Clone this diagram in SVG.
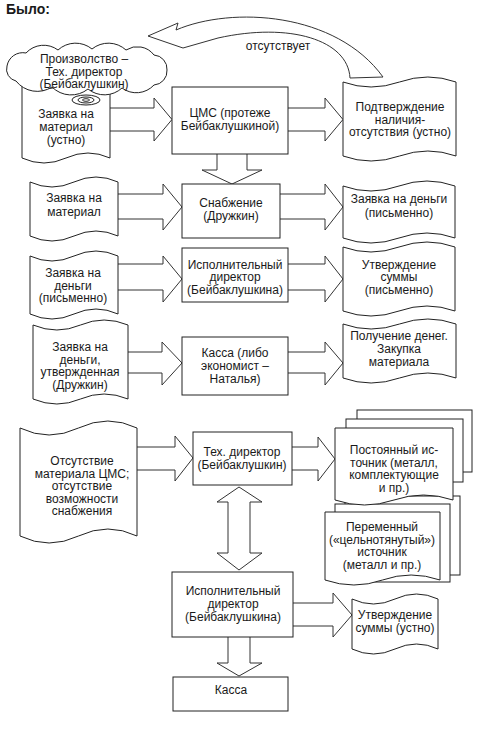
<svg xmlns="http://www.w3.org/2000/svg" width="484" height="730" viewBox="0 0 484 730">
<style>
.s{fill:#fff;stroke:#222;stroke-width:1}
.a{fill:#fff;stroke:#333;stroke-width:1;stroke-linejoin:miter}
text{font-family:"Liberation Sans",Arial,sans-serif;font-size:12px;fill:#1a1a1a;text-anchor:middle}
.t{font-size:14px;font-weight:bold;text-anchor:start}
</style>
<rect x="0" y="0" width="484" height="730" fill="#fff"/>
<text class="t" x="6" y="14">Было:</text>

<g id="connectors">
  <path class="a" d="M148,36 L178,23 L176,30 C232,6 336,12 383,77 L350,78 C348,40 290,22 218,38 L183,48 Z"/>
  <path class="a" d="M110,108 H154 V98 L172,119.5 L154,141 V131 H110"/>
  <path class="a" d="M288,108 H325 V98 L343,119.5 L325,141 V131 H288"/>
  <path class="a" d="M217,154 V170 H202 L232,184 L262,170 H247 V154"/>
  <path class="a" d="M118,194 H163 V184 L182,207 L163,230 V219 H118"/>
  <path class="a" d="M280,194 H325 V184 L343,207 L325,230 V219 H280"/>
  <path class="a" d="M118,264 H163 V256 L182,279 L163,302 V290 H118"/>
  <path class="a" d="M288,264 H325 V256 L343,279 L325,302 V290 H288"/>
  <path class="a" d="M128,352 H162 V342 L182,363 L162,385 V373 H128"/>
  <path class="a" d="M288,352 H325 V342 L343,363 L325,385 V373 H288"/>
  <path class="a" d="M137,447 H175 V436 L193,458 L175,481 V470 H137"/>
  <path class="a" d="M292,447 H318 V437 L335,459 L318,481 V470 H292"/>
  <path class="a" d="M228,502 H217 L239,487 L262,502 H250 V553 H262 L239,570 L217,553 H228 Z"/>
  <path class="a" d="M293,603 H333 V593 L352,615 L333,637 V626 H293"/>
  <path class="a" d="M228,637 V663 H217 L239,676 L262,663 H250 V637"/>
  <text x="278" y="50">отсутствует</text>
</g>

<g id="n-zayavka1">
  <path class="s" d="M22,84 Q44,94 66,84 T110,84 V158 Q88,148 66,158 T22,158 Z"/>
  <text x="66" y="118">Заявка на</text>
  <text x="66" y="131">материал</text>
  <text x="66" y="144">(устно)</text>
</g>
<g id="n-cloud">
  <path class="s" d="M16,81 A12,12 0 0 1 7,66 A16,16 0 0 1 26,53 A24,24 0 0 1 58,50 A26,26 0 0 1 92,49 A26,26 0 0 1 126,50 A21,21 0 0 1 154,55 A14,14 0 0 1 167,70 A14,14 0 0 1 154,85 A24,24 0 0 1 122,88 A26,26 0 0 1 88,89 A27,27 0 0 1 52,87 A27,27 0 0 1 16,81 Z"/>
  <ellipse class="s" cx="86" cy="100" rx="14" ry="5"/>
  <ellipse class="s" cx="86" cy="100" rx="8" ry="3"/>
  <ellipse class="s" cx="86" cy="100" rx="3.5" ry="1.3"/>
  <text x="84" y="63">Произволство –</text>
  <text x="84" y="75.5">Тех. директор</text>
  <text x="84" y="88">(Бейбаклушкин)</text>
</g>
<g id="n-cms">
  <rect class="s" x="172" y="87" width="116" height="67"/>
  <text x="230" y="117">ЦМС (протеже</text>
  <text x="230" y="130">Бейбаклушкиной)</text>
</g>
<g id="n-podtv">
  <path class="s" d="M343,82 Q371,92 399.5,82 T456,82 V156 Q428,146 399.5,156 T343,156 Z"/>
  <text x="400" y="111">Подтверждение</text>
  <text x="400" y="123.5">наличия-</text>
  <text x="400" y="136">отсутствия (устно)</text>
</g>

<g id="n-zayavka2">
  <path class="s" d="M30,182 Q52,192 74,182 T118,182 V236 Q96,226 74,236 T30,236 Z"/>
  <text x="74" y="202">Заявка на</text>
  <text x="74" y="216">материал</text>
</g>
<g id="n-snab">
  <rect class="s" x="182" y="184" width="98" height="54"/>
  <text x="231" y="207">Снабжение</text>
  <text x="231" y="220">(Дружкин)</text>
</g>
<g id="n-zayavka-dengi">
  <path class="s" d="M343,186 Q371,196 399,186 T455,186 V238 Q427,228 399,238 T343,238 Z"/>
  <text x="399" y="203">Заявка на деньги</text>
  <text x="399" y="217">(письменно)</text>
</g>

<g id="n-zayavka3">
  <path class="s" d="M30,256 Q52,266 74,256 T118,256 V314 Q96,304 74,314 T30,314 Z"/>
  <text x="73" y="277">Заявка на</text>
  <text x="73" y="289.5">деньги</text>
  <text x="73" y="302">(письменно)</text>
</g>
<g id="n-isp1">
  <rect class="s" x="182" y="248" width="106" height="54"/>
  <text x="235" y="268.5">Исполнительный</text>
  <text x="235" y="281">директор</text>
  <text x="235" y="293.5">(Бейбаклушкина)</text>
</g>
<g id="n-utv1">
  <path class="s" d="M343,247 Q371,257 399,247 T455,247 V311 Q427,301 399,311 T343,311 Z"/>
  <text x="399" y="268.5">Утверждение</text>
  <text x="399" y="281">суммы</text>
  <text x="399" y="293.5">(письменно)</text>
</g>

<g id="n-zayavka4">
  <path class="s" d="M33,325 Q57,335 80.5,325 T128,325 V399 Q104,389 80.5,399 T33,399 Z"/>
  <text x="80" y="351">Заявка на</text>
  <text x="80" y="363.5">деньги,</text>
  <text x="80" y="376">утвержденная</text>
  <text x="80" y="388.5">(Дружкин)</text>
</g>
<g id="n-kassa1">
  <rect class="s" x="182" y="337" width="106" height="58"/>
  <text x="235" y="357">Касса (либо</text>
  <text x="235" y="370">экономист –</text>
  <text x="235" y="383">Наталья)</text>
</g>
<g id="n-poluch">
  <path class="s" d="M343,324 Q371,334 399.5,324 T456,324 V378 Q428,368 399.5,378 T343,378 Z"/>
  <text x="399" y="340">Получение денег.</text>
  <text x="399" y="353">Закупка</text>
  <text x="399" y="366">материала</text>
</g>

<g id="n-otsutstvie">
  <path class="s" d="M20,428 Q49,442 78.5,428 T137,428 V536 Q108,522 78.5,536 T20,536 Z"/>
  <text x="82" y="465">Отсутствие</text>
  <text x="82" y="477.5">материала ЦМС;</text>
  <text x="82" y="490">отсутствие</text>
  <text x="82" y="502.5">возможности</text>
  <text x="82" y="515">снабжения</text>
</g>
<g id="n-tech">
  <rect class="s" x="193" y="432" width="99" height="53"/>
  <text x="242" y="456">Тех. директор</text>
  <text x="242" y="469">(Бейбаклушкин)</text>
</g>
<g id="n-peremenny">
  <rect class="s" x="345" y="496" width="115" height="79"/>
  <rect class="s" x="335" y="504" width="115" height="78"/>
  <path class="s" d="M325,512 H440 V580 Q411,570 382.5,580 T325,580 Z"/>
  <text x="382" y="531">Переменный</text>
  <text x="382" y="543.5">(«цельнотянутый»)</text>
  <text x="382" y="556">источник</text>
  <text x="382" y="568.5">(металл и пр.)</text>
</g>
<g id="n-postoyanny">
  <rect class="s" x="357" y="410" width="115" height="62"/>
  <rect class="s" x="346" y="419" width="117" height="63"/>
  <path class="s" d="M335,428 H453 V500 Q423.5,490 394,500 T335,500 Z"/>
  <text x="394" y="454">Постоянный ис-</text>
  <text x="394" y="466.5">точник (металл,</text>
  <text x="394" y="479">комплектующие</text>
  <text x="394" y="491.5">и пр.)</text>
</g>
<g id="n-isp2">
  <rect class="s" x="172" y="572" width="121" height="65"/>
  <text x="233" y="595">Исполнительный</text>
  <text x="233" y="608">директор</text>
  <text x="233" y="621">(Бейбаклушкина)</text>
</g>
<g id="n-utv2">
  <path class="s" d="M352,599 Q373.5,609 395,599 T438,599 V649 Q416.5,639 395,649 T352,649 Z"/>
  <text x="395" y="619">Утверждение</text>
  <text x="395" y="631.5">суммы (устно)</text>
</g>
<g id="n-kassa2">
  <rect class="s" x="173" y="677" width="115" height="34"/>
  <text x="231" y="694">Касса</text>
</g>
</svg>
